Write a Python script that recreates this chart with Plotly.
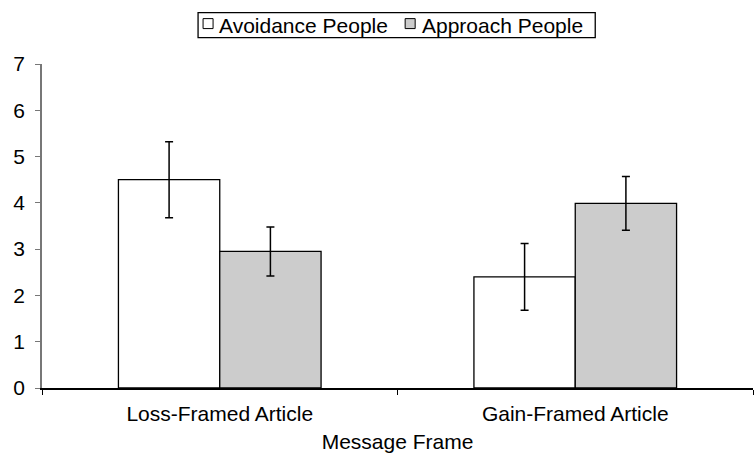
import plotly.graph_objects as go

categories = ["Loss-Framed Article", "Gain-Framed Article"]
series_names = ["Avoidance People", "Approach People"]
avoidance = [4.50, 2.40]
avoidance_err = [0.82, 0.72]
approach = [2.95, 3.99]
approach_err = [0.53, 0.58]
fills = ["white", "#cccccc"]

font = "Liberation Sans, Arial, sans-serif"
FS = 21

W, H = 755, 455
L, R, T, B = 42, 2.3, 63.5, 66.7
pw, ph = W - L - R, H - T - B


def px2x(px):
    return (px - L) / pw


def px2y(py):
    return (H - B - py) / ph


fig = go.Figure()
for name, vals, errs, fill in zip(series_names, [avoidance, approach],
                                  [avoidance_err, approach_err], fills):
    fig.add_trace(go.Bar(
        name=name, x=categories, y=vals,
        marker=dict(color=fill, line=dict(color="black", width=1.3)),
        error_y=dict(type="data", array=errs, color="black", thickness=1.5, width=4),
    ))

# custom legend (box, swatches, labels)
shapes = [dict(type="rect", xref="paper", yref="paper",
               x0=px2x(198), x1=px2x(595), y0=px2y(37), y1=px2y(12),
               line=dict(color="black", width=1.3), fillcolor="white", layer="above")]
annotations = []
for (sx, tx), name, fill in zip([(203, 218), (405, 421)], series_names, fills):
    shapes.append(dict(type="rect", xref="paper", yref="paper",
                       x0=px2x(sx), x1=px2x(sx + 10), y0=px2y(28), y1=px2y(18),
                       line=dict(color="black", width=1), fillcolor=fill, layer="above"))
    annotations.append(dict(text=name, xref="paper", yref="paper",
                            x=px2x(tx - 1), y=px2y(24.5), xanchor="left", yanchor="middle",
                            showarrow=False, font=dict(family=font, size=FS, color="black")))

fig.update_layout(
    width=W, height=H,
    margin=dict(l=L, r=R, t=T, b=B, autoexpand=False),
    paper_bgcolor="white", plot_bgcolor="white",
    barmode="group", bargap=0.43, bargroupgap=0,
    font=dict(family=font, size=FS, color="black"),
    showlegend=False,
    shapes=shapes, annotations=annotations,
    xaxis=dict(
        automargin=False,
        showline=True, linecolor="black", linewidth=1.5,
        ticks="outside", tickson="boundaries", ticklen=5, tickcolor="black",
        title=dict(text="Message Frame", standoff=10, font=dict(size=FS)),
        tickfont=dict(size=FS), ticklabelstandoff=6,
    ),
    yaxis=dict(
        automargin=False,
        range=[0, 7], dtick=1, showgrid=False, zeroline=False,
        showline=True, linecolor="#777777", linewidth=1.5,
        ticks="outside", ticklen=5, tickcolor="#777777",
        tickfont=dict(size=FS), ticklabelstandoff=6,
    ),
)

fig.write_html("out.html", config={"displayModeBar": False},
               post_script="document.body.style.margin='0';")
